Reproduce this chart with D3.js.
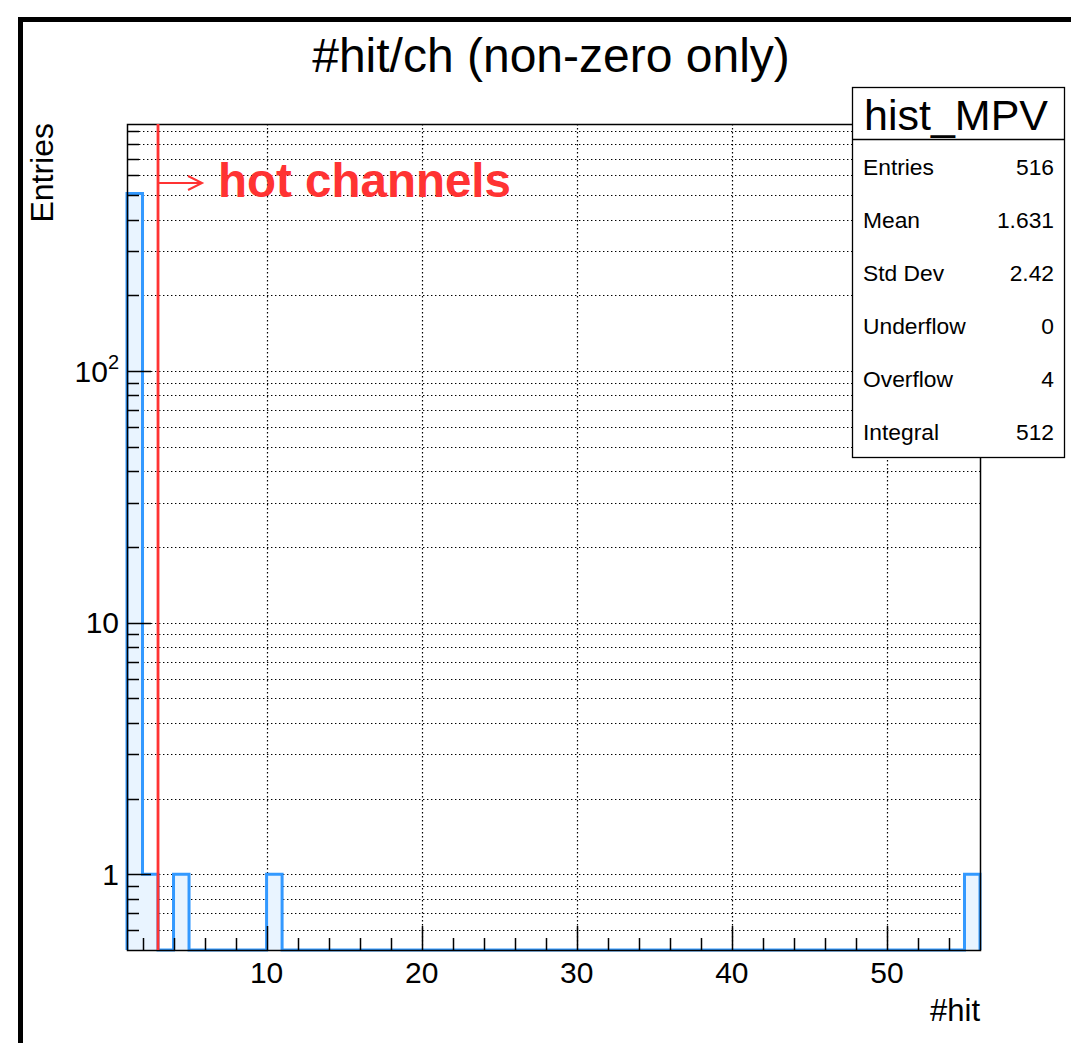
<!DOCTYPE html>
<html>
<head>
<meta charset="utf-8">
<script src="https://cdn.jsdelivr.net/npm/d3@7"></script>
<style>
  html, body { margin: 0; padding: 0; background: #fff; }
  svg { display: block; font-family: "Liberation Sans", Arial, Helvetica, sans-serif; }
</style>
</head>
<body>
<svg id="chart" width="1071" height="1043"></svg>
<script>
// Histogram of hits per channel: 55 unit-wide bins starting at 1
const binLow = 1;
const binWidth = 1;
const counts = [
  508, 1, 0, 1, 0, 0, 0, 0, 0, 1,
  0, 0, 0, 0, 0, 0, 0, 0, 0, 0,
  0, 0, 0, 0, 0, 0, 0, 0, 0, 0,
  0, 0, 0, 0, 0, 0, 0, 0, 0, 0,
  0, 0, 0, 0, 0, 0, 0, 0, 0, 0,
  0, 0, 0, 0, 1
];
const xDomain = [1, 56];
const yDomain = [0.5, 960];
const xMajorTicks = [10, 20, 30, 40, 50];
const yMajorTicks = [1, 10, 100];
const yTickLabels = ["1", "10", "10^2"];
const hotThreshold = 3;
const statsLabels = ["Entries", "Mean", "Std Dev", "Underflow", "Overflow", "Integral"];
const statsValues = ["516", "1.631", "2.42", "0", "4", "512"];

const svg = d3.select("#chart");
const frame = { left: 127, right: 980, top: 124, bottom: 950 };

const x = d3.scaleLinear().domain(xDomain).range([frame.left, frame.right]);
const y = d3.scaleLog().domain(yDomain).range([frame.bottom, frame.top]);

// canvas border
svg.append("rect")
  .attr("x", 20.5).attr("y", 19.5)
  .attr("width", 1200).attr("height", 1200)
  .attr("fill", "none").attr("stroke", "#000").attr("stroke-width", 5);

// title
svg.append("text")
  .attr("x", 551).attr("y", 72)
  .attr("text-anchor", "middle")
  .attr("font-size", 48)
  .text("#hit/ch (non-zero only)");

const plot = svg.append("g");

// minor / major y tick values for the log axis
const yAllTicks = [];
for (let e = -1; e <= 2; e++) {
  for (let m = 1; m <= 9; m++) {
    const v = m * Math.pow(10, e);
    if (v > yDomain[0] && v < yDomain[1]) yAllTicks.push(v);
  }
}
const xMinorTicks = d3.range(2, 56, 2).filter(v => !xMajorTicks.includes(v));

const dotted = "1.4 2.6";

// horizontal grid at every y tick
plot.append("g").selectAll("line").data(yAllTicks).join("line")
  .attr("x1", frame.left).attr("x2", frame.right)
  .attr("y1", d => Math.round(y(d)) + 0.5).attr("y2", d => Math.round(y(d)) + 0.5)
  .attr("stroke", "#000").attr("stroke-width", 1.2).attr("stroke-dasharray", dotted);

// vertical grid at major x ticks
plot.append("g").selectAll("line").data(xMajorTicks).join("line")
  .attr("x1", d => Math.round(x(d)) + 0.5).attr("x2", d => Math.round(x(d)) + 0.5)
  .attr("y1", frame.top).attr("y2", frame.bottom)
  .attr("stroke", "#000").attr("stroke-width", 1.2).attr("stroke-dasharray", dotted);

// histogram outline and fill
const ymin = yDomain[0];
const pts = [[x(binLow), y(ymin)]];
counts.forEach((c, i) => {
  const x0 = x(binLow + i * binWidth), x1 = x(binLow + (i + 1) * binWidth);
  const yy = y(Math.max(c, ymin));
  pts.push([x0, yy], [x1, yy]);
});
pts.push([x(binLow + counts.length * binWidth), y(ymin)]);
const line = d3.line();
plot.append("path")
  .attr("d", line(pts) + "Z")
  .attr("fill", "#e9f4ff").attr("stroke", "none");
plot.append("path")
  .attr("d", line(pts))
  .attr("fill", "none").attr("stroke", "#3399ff").attr("stroke-width", 3)
  .attr("stroke-linejoin", "miter");

// frame
plot.append("rect")
  .attr("x", frame.left + 0.5).attr("y", frame.top + 0.5)
  .attr("width", frame.right - frame.left).attr("height", frame.bottom - frame.top)
  .attr("fill", "none").attr("stroke", "#000").attr("stroke-width", 1.5);

// y ticks (inward from left edge)
plot.append("g").selectAll("line").data(yAllTicks).join("line")
  .attr("x1", frame.left)
  .attr("x2", d => frame.left + (yMajorTicks.includes(d) ? 24 : 12))
  .attr("y1", d => Math.round(y(d)) + 0.5).attr("y2", d => Math.round(y(d)) + 0.5)
  .attr("stroke", "#000").attr("stroke-width", 1.5);

// x ticks (upward from bottom edge)
plot.append("g").selectAll("line").data(xMajorTicks.concat(xMinorTicks)).join("line")
  .attr("x1", d => Math.round(x(d)) + 0.5).attr("x2", d => Math.round(x(d)) + 0.5)
  .attr("y1", frame.bottom)
  .attr("y2", d => frame.bottom - (xMajorTicks.includes(d) ? 24 : 12))
  .attr("stroke", "#000").attr("stroke-width", 1.5);

// x tick labels
plot.append("g").selectAll("text").data(xMajorTicks).join("text")
  .attr("x", d => x(d)).attr("y", 983)
  .attr("text-anchor", "middle").attr("font-size", 30)
  .text(d => d);

// y tick labels
const yl = plot.append("g").selectAll("text").data(yMajorTicks).join("text")
  .attr("x", 119).attr("y", d => y(d) + 10.5)
  .attr("text-anchor", "end").attr("font-size", 30);
yl.each(function(d, i) {
  const t = d3.select(this);
  const lab = yTickLabels[i];
  if (lab.includes("^")) {
    const [base, exp] = lab.split("^");
    t.append("tspan").text(base);
    t.append("tspan").attr("font-size", 20).attr("dy", -13).text(exp);
  } else {
    t.text(lab);
  }
});

// axis titles
svg.append("text")
  .attr("transform", "translate(53,123) rotate(-90)")
  .attr("text-anchor", "end").attr("font-size", 32)
  .text("Entries");
svg.append("text")
  .attr("x", frame.right).attr("y", 1021)
  .attr("text-anchor", "end").attr("font-size", 31)
  .text("#hit");

// hot channel threshold marker
const red = "#ff3333";
const xh = x(hotThreshold);
plot.append("line")
  .attr("x1", xh).attr("x2", xh).attr("y1", frame.top).attr("y2", frame.bottom)
  .attr("stroke", red).attr("stroke-width", 2.8);
const ay = 183;
plot.append("path")
  .attr("d", `M${xh},${ay}H${xh + 44}M${xh + 30},${ay - 7}L${xh + 44},${ay}L${xh + 30},${ay + 7}`)
  .attr("fill", "none").attr("stroke", red).attr("stroke-width", 2);
plot.append("text")
  .attr("x", xh + 60).attr("y", 197)
  .attr("font-size", 47.5).attr("font-weight", "bold").attr("fill", red)
  .text("hot channels");

// statistics box
const sb = svg.append("g");
sb.append("rect")
  .attr("x", 852.5).attr("y", 87.5).attr("width", 212).attr("height", 370)
  .attr("fill", "#fff").attr("stroke", "#000").attr("stroke-width", 1.3);
sb.append("line")
  .attr("x1", 852.5).attr("x2", 1064.5).attr("y1", 139.5).attr("y2", 139.5)
  .attr("stroke", "#000").attr("stroke-width", 1.3);
sb.append("text")
  .attr("x", 956).attr("y", 130)
  .attr("text-anchor", "middle").attr("font-size", 43)
  .text("hist_MPV");
const rowY = d3.scalePoint().domain(statsLabels).range([167, 432]);
sb.selectAll("text.lab").data(statsLabels).join("text").attr("class", "lab")
  .attr("x", 863).attr("y", d => rowY(d) + 8)
  .attr("font-size", 22.8).text(d => d);
sb.selectAll("text.val").data(statsValues).join("text").attr("class", "val")
  .attr("x", 1054).attr("y", (d, i) => rowY(statsLabels[i]) + 8)
  .attr("text-anchor", "end").attr("font-size", 22.8).text(d => d);
</script>
</body>
</html>
